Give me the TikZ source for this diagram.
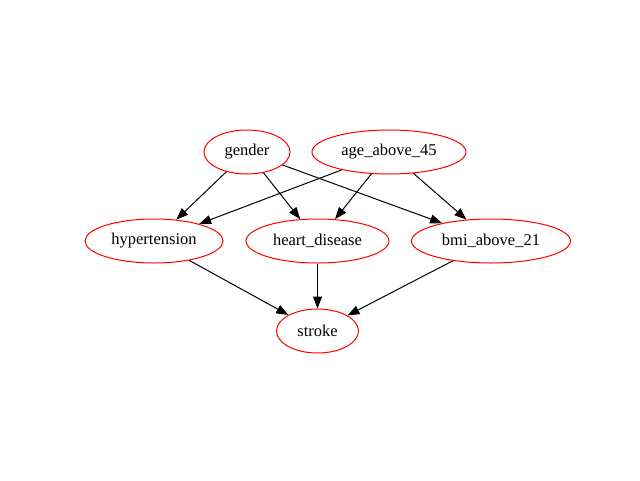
\documentclass[tikz,border=0pt]{standalone}
\usepackage{fontspec}
\setmainfont{Liberation Serif}
\usetikzlibrary{shapes.geometric,arrows.meta}
\begin{document}
\begin{tikzpicture}[x=1pt,y=-1pt,
  var/.style={ellipse,draw=red,line width=1pt,inner sep=0pt,minimum height=44pt,
    font=\fontsize{16.5}{18}\selectfont},
  edge/.style={draw=black,line width=1pt,-{Triangle[length=12pt,width=9pt]}}]
\fill[white] (0,0) rectangle (640,480);
\useasboundingbox (0,0) rectangle (640,480);
\node[var,minimum width=86pt] (gender) at (247,152) {gender};
\node[var,minimum width=154pt] (age) at (389,152) {age\_above\_45};
\node[var,minimum width=138pt] (hyp) at (154,241) {hypertension};
\node[var,minimum width=143pt] (heart) at (317.5,241) {heart\_disease};
\node[var,minimum width=159pt] (bmi) at (491,241) {bmi\_above\_21};
\node[var,minimum width=82pt] (stroke) at (317.5,331) {stroke};
\draw[edge] (gender) -- (hyp);
\draw[edge] (gender) -- (heart);
\draw[edge] (gender) -- (bmi);
\draw[edge] (age) -- (hyp);
\draw[edge] (age) -- (heart);
\draw[edge] (age) -- (bmi);
\draw[edge] (hyp) -- (stroke);
\draw[edge] (heart) -- (stroke);
\draw[edge] (bmi) -- (stroke);
\end{tikzpicture}
\end{document}
